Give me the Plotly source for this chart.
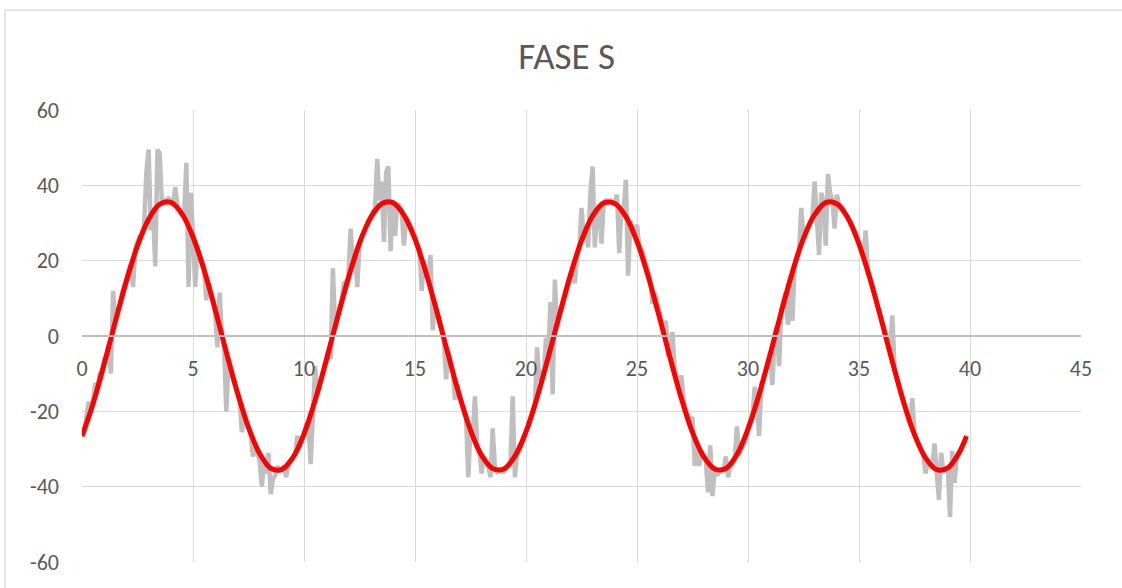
import plotly.graph_objects as go

# Sampling step of the measured signal (time units along the x axis)
paso = 0.1

# Measured phase S signal, one row per unit of x (10 samples each)
fase_s_medida = [
    -26.5, -25.0, -21.5, -17.5, -18.8, -17.0, -12.5, -13.5, -10.0, -9.5,
    -6.0, -5.5, -2.0, -10.0, 12.0, 3.5, 7.0, 8.0, 11.5, 13.0,
    15.0, 17.5, 19.0, 13.0, 23.0, 25.0, 26.5, 27.0, 29.5, 43.5,
    49.5, 28.0, 33.0, 18.5, 49.5, 48.5, 35.0, 36.5, 35.5, 36.5,
    36.0, 35.0, 39.5, 34.5, 33.0, 32.0, 31.5, 46.0, 13.0, 38.0,
    27.0, 13.0, 23.5, 21.5, 19.0, 18.0, 9.5, 14.0, 11.5, 9.5,
    6.0, -3.0, 11.5, 0.5, -2.5, -20.0, -6.0, -9.5, -11.5, -13.5,
    -15.5, -17.0, -25.5, -21.5, -23.0, -24.0, -26.5, -32.0, -29.0, -31.0,
    -33.0, -40.0, -34.0, -36.5, -31.0, -42.0, -38.0, -37.0, -34.5, -36.0,
    -35.0, -34.5, -37.5, -33.5, -33.0, -32.0, -31.5, -26.5, -29.5, -27.0,
    -26.5, -23.5, -23.0, -34.0, -19.0, -8.0, -15.5, -13.0, -10.5, -9.0,
    -6.0, -4.0, -6.0, 18.0, 2.5, 5.0, 7.0, 9.5, 14.0, 14.5,
    15.5, 28.5, 19.5, 21.5, 13.0, 24.5, 26.5, 27.5, 29.0, 30.5,
    32.0, 33.0, 34.0, 47.0, 36.0, 41.0, 25.0, 43.5, 45.0, 22.5,
    36.0, 26.5, 35.0, 34.5, 33.5, 24.0, 31.5, 30.5, 29.0, 28.0,
    26.5, 24.0, 23.0, 12.0, 19.5, 17.0, 15.5, 21.5, 1.5, 9.0,
    6.5, 4.0, 2.5, -0.5, -11.5, -4.0, -7.0, -9.0, -17.0, -13.0,
    -15.5, -17.5, -19.0, -21.5, -37.5, -24.0, -26.5, -16.0, -29.0, -30.5,
    -36.5, -32.0, -33.5, -34.5, -37.5, -24.5, -35.0, -36.0, -35.5, -36.0,
    -36.0, -35.0, -34.5, -34.0, -16.0, -37.5, -31.0, -30.5, -28.5, -27.5,
    -25.5, -24.0, -22.0, -20.5, -18.5, -3.0, -12.0, -9.0, -10.5, -0.5,
    -6.0, 9.0, -15.5, 15.0, 2.5, 5.0, 7.0, 9.5, 11.5, 13.5,
    15.5, 17.5, 14.0, 21.5, 23.0, 34.0, 26.0, 27.5, 23.5, 38.0,
    45.0, 23.5, 33.5, 34.5, 24.5, 35.5, 36.0, 35.5, 36.0, 35.5,
    35.5, 37.5, 22.0, 34.5, 33.5, 41.5, 16.0, 30.5, 29.0, 28.0,
    29.5, 24.0, 23.0, 21.5, 19.0, 17.5, 15.0, 8.5, 11.5, 9.0,
    7.0, 4.5, 2.0, 4.0, -5.5, -4.0, 1.0, -9.0, -11.0, -13.0,
    -10.5, -17.0, -19.5, -21.0, -22.5, -21.5, -34.5, -28.0, -34.5, -30.5,
    -32.0, -33.0, -41.5, -29.0, -42.5, -35.5, -37.0, -36.0, -35.5, -36.0,
    -32.0, -37.5, -34.5, -34.0, -33.0, -24.0, -31.5, -30.0, -28.5, -27.5,
    -24.0, -23.0, -21.5, -13.5, -17.5, -26.5, -13.0, -11.5, -9.0, -7.0,
    -4.5, -13.0, 0.5, 2.5, -8.0, 7.0, 9.0, 11.5, 3.0, 15.5,
    4.0, 19.0, 21.5, 23.0, 34.0, 26.0, 27.5, 29.0, 30.5, 31.5,
    41.0, 33.0, 21.5, 38.0, 35.5, 24.0, 43.0, 38.0, 36.0, 28.5,
    37.5, 35.0, 34.5, 33.5, 32.5, 31.5, 30.5, 29.0, 28.0, 26.5,
    25.0, 23.0, 21.5, 28.0, 17.5, 15.5, 13.5, 11.0, 9.5, 7.0,
    5.0, 2.5, 0.5, -2.0, -4.0, 5.5, -8.5, -11.0, -13.0, -15.0,
    -17.0, -19.0, -21.0, -23.0, -16.5, -26.0, -27.5, -29.0, -30.5, -31.5,
    -36.5, -33.0, -34.5, -35.0, -28.5, -35.5, -43.5, -31.0, -36.0, -35.5,
    -35.0, -48.0, -30.5, -39.0, -32.5, -31.0, -30.0, -29.0, -27.5,
]
tiempo = [round(k * paso, 1) for k in range(len(fase_s_medida))]

# Fitted sinusoid, sampled every 0.5 and drawn as a smooth spline
tiempo_ajuste = [k * 0.5 for k in range(80)] + [39.84]
fase_s_ajuste = [
    -26.6, -17.9, -7.4, 3.8, 14.6, 24.0, 31.0, 35.0, 35.5, 32.5,
    26.3, 17.5, 7.0, -4.3, -15.0, -24.3, -31.2, -35.1, -35.4, -32.3,
    -26.0, -17.1, -6.5, 4.7, 15.4, 24.7, 31.4, 35.1, 35.4, 32.1,
    25.7, 16.7, 6.1, -5.1, -15.8, -25.0, -31.7, -35.2, -35.3, -31.9,
    -25.4, -16.3, -5.7, 5.5, 16.2, 25.3, 31.9, 35.3, 35.2, 31.7,
    25.1, 15.9, 5.2, -6.0, -16.6, -25.6, -32.0, -35.3, -35.2, -31.5,
    -24.7, -15.5, -4.8, 6.4, 17.0, 25.9, 32.2, 35.4, 35.1, 31.3,
    24.4, 15.1, 4.4, -6.8, -17.4, -26.2, -32.4, -35.5, -35.0, -31.1,
    -26.6,
]

# Axis ticks (labels written with a plain hyphen for negatives)
x_ticks = [0, 5, 10, 15, 20, 25, 30, 35, 40, 45]
y_ticks = [-60, -40, -20, 0, 20, 40, 60]
y_tick_labels = ["-60", "-40", "-20", "0", "20", "40", "60"]

FONT = "Carlito, Lato, 'Liberation Sans', sans-serif"
TEXT = "#595959"
GRID = "#d9d9d9"

fig = go.Figure()
fig.add_trace(go.Scatter(
    x=tiempo, y=fase_s_medida, mode="lines",
    line=dict(color="#bfbfbf", width=4.5),
    name="Medida",
))
fig.add_trace(go.Scatter(
    x=tiempo_ajuste, y=fase_s_ajuste, mode="lines",
    line=dict(color="#ff0000", width=5, shape="spline", smoothing=1),
    name="Ajuste",
))

fig.update_layout(
    width=1122, height=588,
    margin=dict(l=82, r=41, t=110, b=26),
    paper_bgcolor="white", plot_bgcolor="white",
    showlegend=False,
    font=dict(family=FONT, size=22, color=TEXT),
    title=dict(
        text="FASE S", x=0.505, xanchor="center", y=0.905, yanchor="middle",
        font=dict(family=FONT, size=37, color=TEXT),
    ),
    shapes=[dict(
        type="rect", xref="paper", yref="paper",
        x0=-0.077, x1=1.2, y0=-0.3, y1=1.221,
        line=dict(color=GRID, width=1.3), fillcolor="rgba(0,0,0,0)",
        layer="below",
    )],
)

fig.update_xaxes(
    range=[0, 45], tickvals=x_ticks,
    showgrid=True, gridcolor=GRID, gridwidth=1.3,
    zeroline=False, showline=True, linecolor="#bfbfbf", linewidth=1.5,
    anchor="free", position=0.5, ticks="", ticklabelstandoff=13,
    tickfont=dict(family=FONT, size=22, color=TEXT),
)
fig.update_yaxes(
    range=[-60, 60], tickvals=y_ticks, ticktext=y_tick_labels,
    showgrid=True, gridcolor=GRID, gridwidth=1.3,
    zeroline=False, showline=False, ticks="", ticklabelstandoff=22,
    tickfont=dict(family=FONT, size=22, color=TEXT),
)

fig.write_html("out.html")
